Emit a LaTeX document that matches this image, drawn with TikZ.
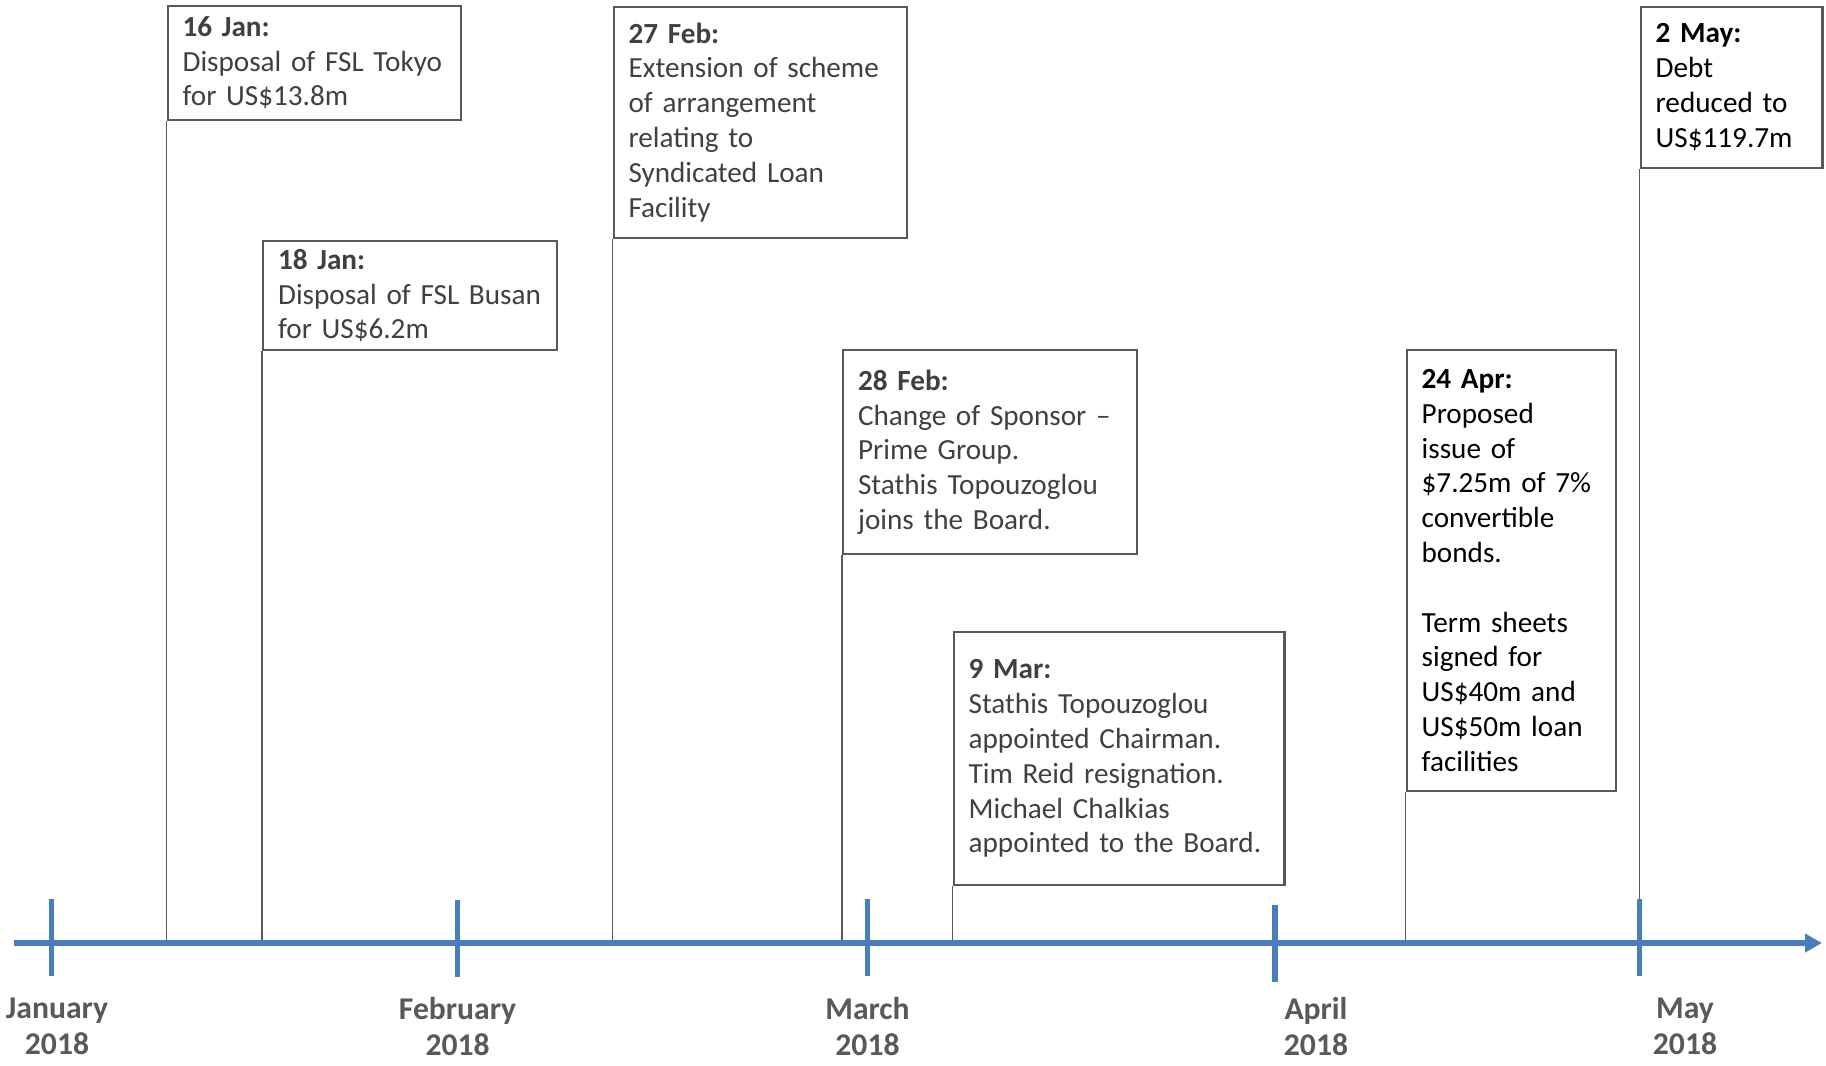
\documentclass[tikz,border=0pt]{standalone}
\usepackage{fontspec}
\setmainfont{Carlito}
\usetikzlibrary{arrows.meta}
\definecolor{tlblue}{RGB}{74, 126, 187}
\definecolor{tlgray}{RGB}{89, 89, 89}
\definecolor{tltext}{RGB}{64, 64, 64}

\begin{document}
\begin{tikzpicture}[
    x=0.01cm, y=-0.01cm,
    evbox/.style={draw=tlgray, line width=0.6pt, fill=white,
                  anchor=north west, align=left,
                  inner xsep=0.15cm, inner ysep=0.08cm,
                  text=tltext, font=\fontsize{8.3}{9.9}\selectfont,
                  text width=#1},
    evdark/.style={evbox=#1, text=black},
    stem/.style={draw=tlgray, line width=0.4pt},
    axisline/.style={draw=tlblue, line width=1.5pt},
    monthlbl/.style={font=\fontsize{9}{10.3}\selectfont\bfseries,
                     text=tlgray, align=center},
]

\useasboundingbox (0,0) rectangle (1826,1066);

% ================================================================
% EVENT BOXES
% ================================================================
\node[evbox=2.635cm, minimum height=1.14cm] (jan16) at (166.5,4.7)
  {\textbf{16 Jan:}\\Disposal of FSL Tokyo\\for US\$13.8m};

\node[evbox=2.635cm, minimum height=1.06cm] (jan18) at (262,240)
  {\textbf{18 Jan:}\\Disposal of FSL Busan\\for US\$6.2m};

\node[evbox=2.635cm, minimum height=2.306cm] (feb27) at (612.5,5.8)
  {\textbf{27 Feb:}\\Extension of scheme\\of arrangement\\relating to\\
   Syndicated Loan\\Facility};

\node[evbox=2.635cm, minimum height=2.04cm] (feb28) at (842,349)
  {\textbf{28 Feb:}\\Change of Sponsor --\\Prime Group.\\
   Stathis Topouzoglou\\joins the Board.};

\node[evbox=3.007cm, minimum height=2.53cm] (mar9) at (952.6,631)
  {\textbf{9 Mar:}\\Stathis Topouzoglou\\appointed Chairman.\\
   Tim Reid resignation.\\Michael Chalkias\\appointed to the Board.};

\node[evdark=1.796cm, minimum height=4.405cm] (apr24) at (1405.6,349)
  {\textbf{24 Apr:}\\Proposed\\issue of\\\$7.25m of 7\%\\convertible\\bonds.\\[9.9pt]
   Term sheets\\signed for\\US\$40m and\\US\$50m loan\\facilities};

\node[evdark=1.517cm, minimum height=1.607cm] (may2) at (1639.6,5.8)
  {\textbf{2 May:}\\Debt\\reduced to\\US\$119.7m};

% ================================================================
% TIME AXIS
% ================================================================
\coordinate (axL) at (14,943);
\coordinate (axR) at (1822,943);

% stems from each box down to the axis
\foreach \ev in {jan16, jan18, feb27, feb28, mar9, apr24, may2}
  \draw[stem] (\ev.south west) -- (\ev.south west |- axL);

\draw[axisline, -{Triangle[length=0.17cm, width=0.18cm]}] (axL) -- (axR);

% month ticks
\foreach \tx/\ttop in {51.2/899, 457.6/900, 867.5/899, 1275/905, 1639.6/899}
  \draw[axisline] (\tx,\ttop) -- ++(0,77);

% month labels
\foreach \mx/\mid/\mtxt in {57/jan/January, 457.6/feb/February,
                            867.5/mar/March, 1316/apr/April, 1685/may/May}
  \node[monthlbl] (lbl\mid) at (\mx,1026.5) {\mtxt\\2018};

\end{tikzpicture}
\end{document}
